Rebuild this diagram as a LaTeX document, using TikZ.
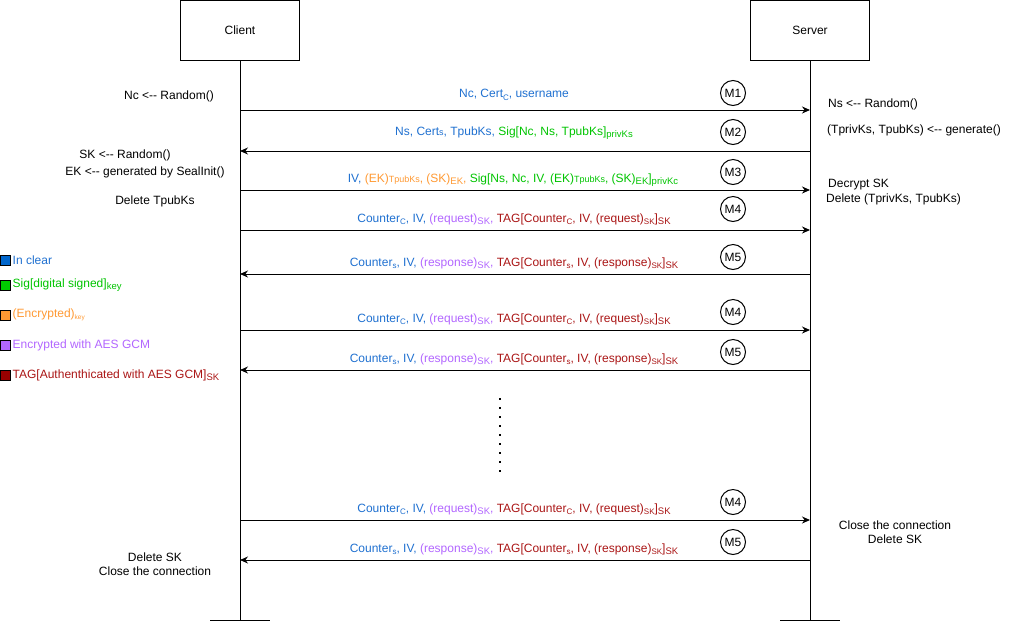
\documentclass[tikz,border=0pt]{standalone}
\usepackage{fontspec}
\setmainfont{Liberation Sans}
\usetikzlibrary{arrows.meta}
\definecolor{cblue}{HTML}{1F70D0}
\definecolor{cgreen}{HTML}{00C400}
\definecolor{corange}{HTML}{FF9933}
\definecolor{cpurple}{HTML}{B266FF}
\definecolor{cred}{HTML}{AA1515}
\definecolor{sqblue}{HTML}{0066CC}
\definecolor{sqgreen}{HTML}{00CC00}
\definecolor{sqorange}{HTML}{FF9933}
\definecolor{sqpurple}{HTML}{B266FF}
\definecolor{sqred}{HTML}{990000}
\newcommand{\sbs}[1]{\raisebox{-2.6pt}{\fontsize{9.5}{10}\selectfont #1}}
\newcommand{\ssbs}[1]{\raisebox{-2.4pt}{\fontsize{8}{9}\selectfont #1}}
\newcommand{\smf}{\fontsize{9}{9}\selectfont}
\newcommand{\msgfour}{\textcolor{cblue}{Counter\ssbs{C}, IV,} \textcolor{cpurple}{(request)\sbs{SK},} \textcolor{cred}{TAG[Counter\ssbs{C}, IV, (request)\ssbs{SK}]\sbs{SK}}}
\newcommand{\msgfive}{\textcolor{cblue}{Counter\ssbs{s}, IV,} \textcolor{cpurple}{(response)\sbs{SK},} \textcolor{cred}{TAG[Counter\ssbs{s}, IV, (response)\ssbs{SK}]\sbs{SK}}}
\begin{document}
\begin{tikzpicture}[x=1pt,y=-1pt,
  every node/.style={font=\fontsize{12}{14}\selectfont, inner sep=0pt},
  actor/.style={draw, line width=1pt, minimum width=119pt, minimum height=60pt},
  msg/.style={draw, line width=1pt, -{Stealth[length=8pt,width=7pt]}},
  tagc/.style={draw, circle, line width=1pt, minimum size=25pt},
  note/.style={align=center},
  legsq/.style={draw, line width=1pt, minimum size=10pt},
  legtx/.style={anchor=west}]
\useasboundingbox (0,0) rectangle (1017,622);
% actors
\node[actor] (client) at (240,30.5) {Client};
\node[actor] (server) at (810,30.5) {Server};
\coordinate (cend) at (240,620);
\coordinate (send) at (810,620);
\draw[line width=1pt] (client.south) -- (cend);
\draw[line width=1pt] (server.south) -- (send);
\coordinate (cbl) at (210,620.5); \coordinate (cbr) at (270,620.5);
\coordinate (sbl) at (780,620.5); \coordinate (sbr) at (840,620.5);
\draw[line width=1pt] (cbl) -- (cbr);
\draw[line width=1pt] (sbl) -- (sbr);
% message endpoints
\foreach \n/\y in {1/110,2/151,3/190,4/230,5/274,6/330,7/370,8/520,9/560}{
  \coordinate (c\n) at (240,\y);
  \coordinate (s\n) at (810,\y);
}
\draw[msg] (c1) -- (s1);
\draw[msg] (s2) -- (c2);
\draw[msg] (c3) -- (s3);
\draw[msg] (c4) -- (s4);
\draw[msg] (s5) -- (c5);
\draw[msg] (c6) -- (s6);
\draw[msg] (s7) -- (c7);
\draw[msg] (c8) -- (s8);
\draw[msg] (s9) -- (c9);
% message labels
\node (l1) at (514,95) {\textcolor{cblue}{Nc, Cert\ssbs{C}, username}};
\node (l2) at (514,133) {\textcolor{cblue}{Ns, Cert{\smf s}, TpubKs,} \textcolor{cgreen}{Sig[Nc, Ns, TpubKs]\sbs{privKs}}};
\node (l3) at (513,180) {\textcolor{cblue}{IV,} \textcolor{corange}{(EK){\smf TpubKs}, (SK)\sbs{EK},} \textcolor{cgreen}{Sig[Ns, Nc, IV, (EK){\smf TpubKs}, (SK)\sbs{EK}]\sbs{privKc}}};
\node (l4) at (514,219) {\msgfour};
\node (l5) at (514,263) {\msgfive};
\node (l6) at (514,319) {\msgfour};
\node (l7) at (514,359) {\msgfive};
\node (l8) at (514,509) {\msgfour};
\node (l9) at (514,549) {\msgfive};
% message tags
\node[tagc] (m1) at (733,93) {M1};
\node[tagc] (m2) at (733,132) {M2};
\node[tagc] (m3) at (733,172) {M3};
\node[tagc] (m4a) at (733,209) {M4};
\node[tagc] (m5a) at (733,257) {M5};
\node[tagc] (m4b) at (733,312) {M4};
\node[tagc] (m5b) at (733,352) {M5};
\node[tagc] (m4c) at (733,502) {M4};
\node[tagc] (m5c) at (733,542) {M5};
% dots
\coordinate (d1) at (500,398);
\coordinate (d2) at (500,472);
\draw[line width=2pt, dash pattern=on 2pt off 7pt] (d1) -- (d2);
% client notes
\node[note] (n1) at (169,96) {Nc <-{}- Random()};
\node[note] (n2) at (125,155) {SK <-{}- Random()};
\node[note] (n3) at (145,172) {EK <-{}- generated by SealInit()};
\node[note] (n4) at (155,201) {Delete TpubKs};
\node[note] (n5) at (155,564) {Delete SK\\Close the connection};
% server notes
\node[anchor=west] (r1) at (828,104) {Ns <-{}- Random()};
\node[anchor=west] (r2) at (827,130) {(TprivKs, TpubKs) <-{}- generate()};
\node[anchor=west] (r3) at (828,185) {Decrypt SK};
\node[anchor=west] (r4) at (826,199) {Delete (TprivKs, TpubKs)};
\node[note] (r5) at (895,532) {Close the connection\\Delete SK};
% legend
\node[legsq, fill=sqblue] (q1) at (5.5,260) {};
\node[legsq, fill=sqgreen] (q2) at (5.5,285) {};
\node[legsq, fill=sqorange] (q3) at (5.5,315.5) {};
\node[legsq, fill=sqpurple] (q4) at (5.5,345.5) {};
\node[legsq, fill=sqred] (q5) at (5.5,375) {};
\node[legtx] (t1) at (12.5,260) {\textcolor{cblue}{In clear}};
\node[legtx] (t2) at (12.5,285) {\textcolor{cgreen}{Sig[digital signed]\sbs{key}}};
\node[legtx] (t3) at (12.5,315) {\textcolor{corange}{(Encrypted)\raisebox{-2.5pt}{\fontsize{6.5}{7}\selectfont key}}};
\node[legtx] (t4) at (12.5,345) {\textcolor{cpurple}{Encrypted with AES GCM}};
\node[legtx] (t5) at (12.5,375) {\textcolor{cred}{TAG[Authenthicated with AES GCM]\sbs{SK}}};
\end{tikzpicture}
\end{document}
